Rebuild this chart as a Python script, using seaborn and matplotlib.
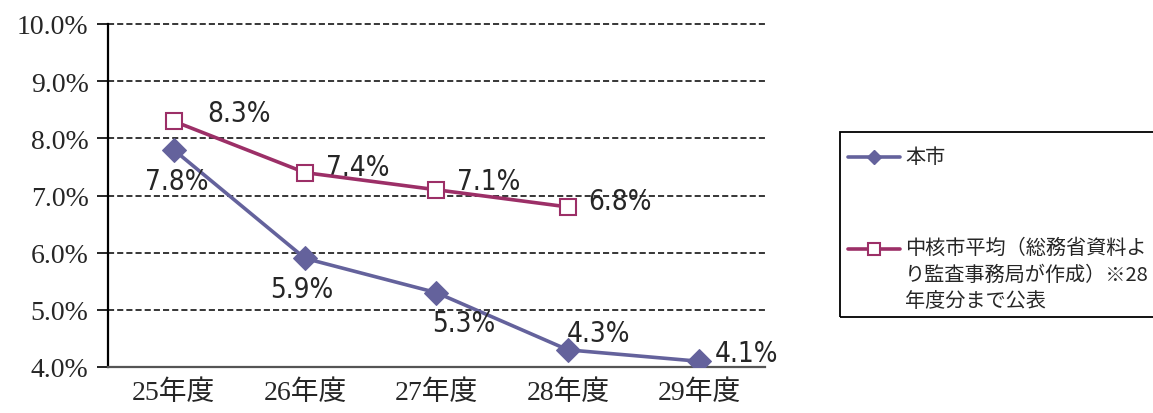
import pandas as pd
import numpy as np
import matplotlib.pyplot as plt
import seaborn as sns
from matplotlib.lines import Line2D
from matplotlib.patches import Rectangle

# data
years = ['25年度', '26年度', '27年度', '28年度', '29年度']
city = [7.8, 5.9, 5.3, 4.3, 4.1]
core_avg = [8.3, 7.4, 7.1, 6.8, np.nan]
city_name = '本市'
core_name = '中核市平均（総務省資料よ\nり監査事務局が作成）※28\n年度分まで公表'

# label offsets (pixels) relative to each point
city_offsets = [(3, -31), (-3, -31), (27, -30), (31, 17), (47, 8)]
core_offsets = [(65, 8), (53, 6), (52, 9), (52, 6)]

city_color = '#64629c'
core_color = '#9c2f67'

sns.set_style('white')
plt.rcParams['font.family'] = ['Noto Sans CJK JP', 'DejaVu Sans']

df = pd.DataFrame({'year': years, 'city': city, 'core': core_avg})
df['x'] = np.arange(len(years))

W, H = 1153, 414
fig = plt.figure(figsize=(W / 100, H / 100), dpi=100)
ax = fig.add_axes([108 / W, 1 - 368 / H, 657 / W, 343 / H])

sns.lineplot(data=df, x='x', y='city', ax=ax, color=city_color, lw=2.6,
             marker='D', markersize=12, markeredgecolor=city_color,
             markerfacecolor=city_color, zorder=3)
sns.lineplot(data=df.dropna(), x='x', y='core', ax=ax, color=core_color, lw=2.6,
             marker='s', markersize=12, markeredgecolor=core_color,
             markeredgewidth=1.5, markerfacecolor='white', zorder=4)

label_font = dict(family='DejaVu Sans', fontstretch='condensed', fontsize=20)
for i, v in enumerate(city):
    ax.annotate(f'{v:.1f}%', (i, v), xytext=city_offsets[i], textcoords='offset pixels',
                ha='center', va='center', **label_font)
for i, v in enumerate(core_avg):
    if np.isnan(v):
        continue
    ax.annotate(f'{v:.1f}%', (i, v), xytext=core_offsets[i], textcoords='offset pixels',
                ha='center', va='center', **label_font)

ax.set_xlim(-0.5, len(years) - 0.5)
ax.set_ylim(4, 10)
yt = np.arange(4, 10.01, 1)
ax.set_yticks(yt)
ax.set_yticklabels([f'{t:.1f}%' for t in yt],
                   family=['Liberation Serif', 'Noto Sans CJK JP'], fontsize=20)
ax.set_xticks(df['x'])
ax.set_xticklabels(years, family=['Liberation Serif', 'Noto Sans CJK JP'], fontsize=20)
ax.set_xlabel('')
ax.set_ylabel('')
ax.tick_params(axis='y', length=8, width=1.2, color='black', pad=6, direction='out', left=True)
ax.tick_params(axis='x', length=0, pad=9)
ax.yaxis.grid(True, linestyle=(0, (4, 2)), color='black', lw=1.1)
for gl in ax.get_ygridlines():
    gl.set_clip_on(False)
for s in ['top', 'right']:
    ax.spines[s].set_visible(False)
ax.spines['left'].set_color('black')
ax.spines['left'].set_linewidth(1.6)
ax.spines['bottom'].set_color('#555555')
ax.spines['bottom'].set_linewidth(1.6)

# legend box, drawn in figure pixels (it runs off the right edge)
def fx(px):
    return px / W

def fy(py):
    return 1 - py / H

fig.add_artist(Rectangle((fx(840), fy(318)), fx(1170) - fx(840), fy(133) - fy(318),
                         transform=fig.transFigure, fill=False, edgecolor='black',
                         lw=1.3, clip_on=False))
fig.add_artist(Line2D([fx(848), fx(900)], [fy(158), fy(158)], transform=fig.transFigure,
                      color=city_color, lw=2.6))
fig.add_artist(Line2D([fx(874)], [fy(158)], transform=fig.transFigure, color=city_color,
                      marker='D', markersize=7, markerfacecolor=city_color))
fig.add_artist(Line2D([fx(848), fx(900)], [fy(250), fy(250)], transform=fig.transFigure,
                      color=core_color, lw=2.6))
fig.add_artist(Line2D([fx(874)], [fy(250)], transform=fig.transFigure, color=core_color,
                      marker='s', markersize=8, markerfacecolor='white', markeredgewidth=1.5))
fig.text(fx(905), fy(158), city_name, fontsize=14.5, va='center', ha='left')
fig.text(fx(905), fy(238), core_name, fontsize=14.5, va='top', ha='left', linespacing=1.35)

fig.savefig('out.png', dpi=100)
